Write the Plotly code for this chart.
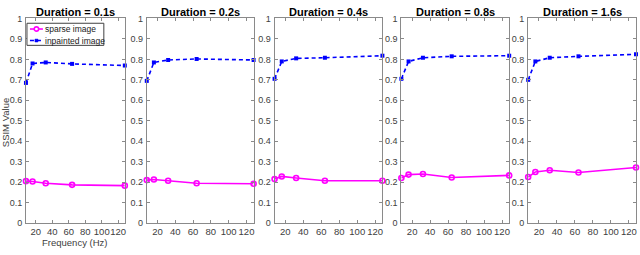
import plotly.graph_objects as go

freqs = [8, 16, 32, 64, 128]
durations = ["0.1s", "0.2s", "0.4s", "0.8s", "1.6s"]
sparse = [
    [0.205, 0.203, 0.195, 0.187, 0.183],
    [0.210, 0.213, 0.207, 0.195, 0.192],
    [0.215, 0.228, 0.220, 0.207, 0.207],
    [0.220, 0.237, 0.240, 0.223, 0.233],
    [0.225, 0.250, 0.258, 0.247, 0.272],
]
inpainted = [
    [0.685, 0.780, 0.785, 0.778, 0.770],
    [0.695, 0.785, 0.797, 0.802, 0.797],
    [0.705, 0.790, 0.805, 0.808, 0.818],
    [0.705, 0.790, 0.808, 0.815, 0.818],
    [0.700, 0.790, 0.808, 0.815, 0.825],
]
x_ticks = [20, 40, 60, 80, 100, 120]
y_ticks = [0, 0.1, 0.2, 0.3, 0.4, 0.5, 0.6, 0.7, 0.8, 0.9, 1]
legend_labels = ["sparse image", "inpainted image"]

W, H = 640, 255
panels_px = [(26, 125), (147, 254), (275, 383), (402, 510), (529, 637)]
y_dom = [1 - 227 / H, 1 - 14 / H]

fig = go.Figure()
font = "Liberation Sans, Arial, sans-serif"
axcol = "#8a8a8a"
tickcol = "#404040"
MAG, BLU = "#ff00ff", "#0000ff"

for i, (d, s, p) in enumerate(zip(durations, sparse, inpainted)):
    n = "" if i == 0 else str(i + 1)
    fig.add_trace(go.Scatter(
        x=freqs, y=s, mode="lines+markers", name=legend_labels[0],
        line=dict(color=MAG, width=1.6),
        marker=dict(symbol="circle-open", size=5, color=MAG, line=dict(width=1.6)),
        xaxis="x" + n, yaxis="y" + n, showlegend=False, cliponaxis=False))
    fig.add_trace(go.Scatter(
        x=freqs, y=p, mode="lines+markers", name=legend_labels[1],
        line=dict(color=BLU, width=1.6, dash="4px,3px"),
        marker=dict(symbol="square", size=4, color=BLU),
        xaxis="x" + n, yaxis="y" + n, showlegend=False, cliponaxis=False))
    x0, x1 = panels_px[i]
    common = dict(showline=True, mirror="ticks", linecolor=axcol, linewidth=1,
                  ticks="inside", ticklen=3, tickcolor=axcol, showgrid=False, zeroline=False)
    fig.update_layout(**{
        "xaxis" + n: dict(domain=[x0 / W, x1 / W], range=[8, 128], tickvals=x_ticks,
                          tickangle=0, anchor="y" + n,
                          tickfont=dict(family=font, size=9.5, color=tickcol), **common),
        "yaxis" + n: dict(domain=y_dom, range=[0, 1], tickvals=y_ticks,
                          ticktext=[("%g" % v) for v in y_ticks], ticklabelstandoff=1,
                          anchor="x" + n,
                          tickfont=dict(family=font, size=9, color=tickcol), **common),
    })
    fig.add_annotation(x=(x0 + x1) / 2 / W, y=1 - 7 / H, xref="paper", yref="paper",
                       xanchor="center", yanchor="middle",
                       text="<b>Duration = %s</b>" % d, showarrow=False,
                       font=dict(family=font, size=11, color="black"))

fig.add_annotation(x=5 / W, y=1 - 122 / H, xref="paper", yref="paper", text="SSIM Value",
                   xanchor="center", yanchor="middle",
                   textangle=-90, showarrow=False, font=dict(family=font, size=9.5, color=tickcol))
fig.add_annotation(x=75 / W, y=1 - 247 / H, xref="paper", yref="paper", text="Frequency (Hz)",
                   xanchor="center", yanchor="middle",
                   showarrow=False, font=dict(family=font, size=9.5, color=tickcol))

# custom compact legend (MATLAB style) in panel 1
def px(x):
    return x / W

def py(y):
    return 1 - y / H

fig.add_shape(type="rect", xref="paper", yref="paper", x0=px(27), x1=px(104), y0=py(42), y1=py(19),
              line=dict(color="#404040", width=1), fillcolor="white", layer="above")
rows = [(25, MAG, "solid"), (37, BLU, "4px,3px")]
for (yy, col, dash), lab in zip(rows, legend_labels):
    fig.add_shape(type="line", xref="paper", yref="paper", x0=px(30), x1=px(43), y0=py(yy), y1=py(yy),
                  line=dict(color=col, width=1.6, dash=dash), layer="above")
    fig.add_annotation(x=px(43.5), y=py(yy), xref="paper", yref="paper", text=lab,
                       xanchor="left", yanchor="middle", showarrow=False,
                       font=dict(family=font, size=8.5, color="#202020"))
fig.add_shape(type="circle", xref="paper", yref="paper", x0=px(34.3), x1=px(38.7),
              y0=py(27.2), y1=py(22.8), line=dict(color=MAG, width=1.6), fillcolor="white", layer="above")
fig.add_shape(type="rect", xref="paper", yref="paper", x0=px(35), x1=px(38),
              y0=py(38.5), y1=py(35.5), line=dict(color=BLU, width=0.5), fillcolor=BLU, layer="above")

fig.update_layout(
    width=W, height=H, margin=dict(l=0, r=0, t=0, b=0),
    paper_bgcolor="white", plot_bgcolor="white", showlegend=False,
)
fig.write_html("out.html", config={"displayModeBar": False},
               post_script="document.body.style.margin='0';")
